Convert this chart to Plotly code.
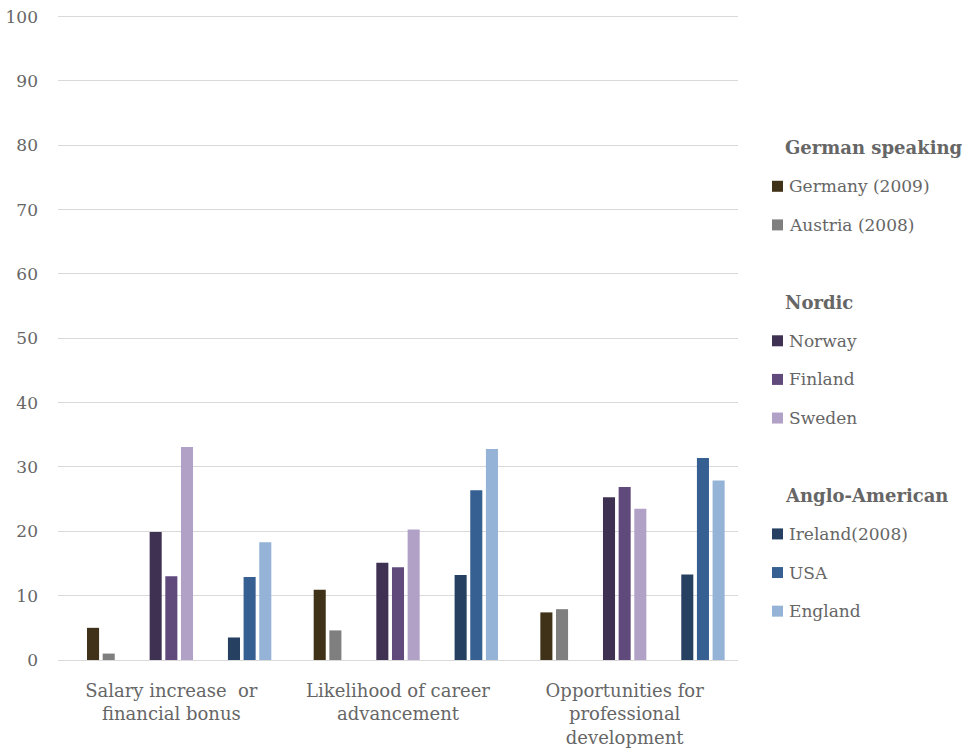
import plotly.graph_objects as go

# Categories on the x axis
categories = [
    "Salary increase\u00a0 or<br>financial bonus",
    "Likelihood of career<br>advancement",
    "Opportunities for<br>professional<br>development",
]

# Series in legend order; group headings and spacers are empty series
series_names = [
    "German speaking", "Germany (2009)", "Austria (2008)", "",
    "Nordic", "Norway", "Finland", "Sweden", "",
    "Anglo-American", "Ireland(2008)", "USA", "England",
]
heading_names = {"German speaking", "Nordic", "Anglo-American"}

germany = [5.0, 10.9, 7.4]
austria = [1.0, 4.6, 7.9]
norway = [19.9, 15.1, 25.3]
finland = [13.0, 14.4, 26.9]
sweden = [33.1, 20.3, 23.5]
ireland = [3.5, 13.2, 13.3]
usa = [12.9, 26.4, 31.4]
england = [18.3, 32.8, 27.9]

series_values = {
    "Germany (2009)": germany,
    "Austria (2008)": austria,
    "Norway": norway,
    "Finland": finland,
    "Sweden": sweden,
    "Ireland(2008)": ireland,
    "USA": usa,
    "England": england,
}

series_colors = {
    "Germany (2009)": "#3f3218",
    "Austria (2008)": "#7f7f7f",
    "Norway": "#3f3151",
    "Finland": "#604a7b",
    "Sweden": "#b2a1c7",
    "Ireland(2008)": "#254061",
    "USA": "#376092",
    "England": "#95b3d7",
}

W, H = 969, 753
Y_MAX = 100.4
L, R, B = 58, 738, 660            # plot area edges in pixels
T = B - 643 * Y_MAX / 100          # top edge so that 100 sits at y=17
FONT = "DejaVu Serif"
TEXT = "#666666"

fig = go.Figure()
for i, name in enumerate(series_names):
    vals = series_values.get(name, [None, None, None])
    fig.add_trace(go.Bar(
        x=categories, y=vals, name=name or f"spacer{i}",
        marker=dict(color=series_colors.get(name, "rgba(0,0,0,0)"), line=dict(width=0)),
        showlegend=False,
    ))


def px_x(px):
    return (px - L) / (R - L)


def px_y(py):
    return (B - py) / (B - T)


# Legend laid out as one row per series
row0, row_step = 148, 38.6
annotations = []
shapes = []
for k, name in enumerate(series_names):
    if not name:
        continue
    yc = row0 + k * row_step
    if name in heading_names:
        annotations.append(dict(
            x=px_x(783), y=px_y(yc), xref="paper", yref="paper",
            text=f"<b>{name}</b>", showarrow=False, xanchor="left", yanchor="middle",
            font=dict(family=FONT, size=18, color=TEXT),
        ))
    else:
        shapes.append(dict(
            type="rect", xref="paper", yref="paper",
            x0=px_x(772), x1=px_x(783), y0=px_y(yc + 5.5), y1=px_y(yc - 5.5),
            fillcolor=series_colors[name], line=dict(width=0),
        ))
        annotations.append(dict(
            x=px_x(787), y=px_y(yc), xref="paper", yref="paper",
            text=name, showarrow=False, xanchor="left", yanchor="middle",
            font=dict(family=FONT, size=17, color=TEXT),
        ))

fig.update_layout(
    width=W, height=H,
    margin=dict(l=L, r=W - R, t=T, b=H - B, pad=0),
    paper_bgcolor="white", plot_bgcolor="white",
    barmode="group", bargap=0.102, bargroupgap=0.23,
    font=dict(family=FONT, size=17, color=TEXT),
    annotations=annotations, shapes=shapes,
    showlegend=False,
)
fig.update_xaxes(
    automargin=False,
    showgrid=False, showline=False, zeroline=False,
    ticks="", ticklabelstandoff=18,
    tickfont=dict(family=FONT, size=18, color=TEXT),
)
fig.update_yaxes(
    automargin=False,
    range=[0, Y_MAX], tick0=0, dtick=10, showgrid=True, gridcolor="#d9d9d9", gridwidth=1.3,
    zeroline=True, zerolinecolor="#d9d9d9", zerolinewidth=1.3,
    showline=False, ticks="", ticklabelstandoff=19,
    tickfont=dict(family=FONT, size=17, color=TEXT),
)

fig.write_html("out.html")
